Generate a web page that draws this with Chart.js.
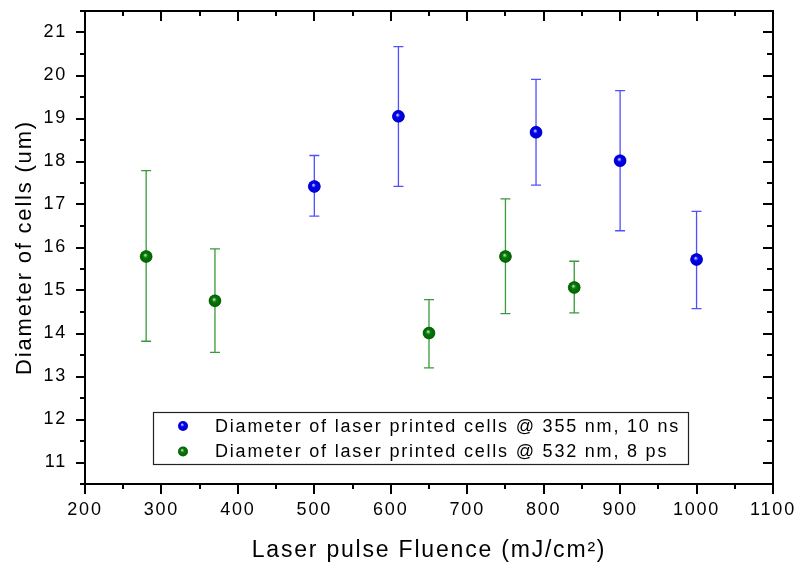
<!DOCTYPE html>
<html>
<head>
<meta charset="utf-8">
<script src="https://cdn.jsdelivr.net/npm/chart.js@4.4.1/dist/chart.umd.min.js"></script>
<style>
  html, body { margin: 0; padding: 0; background: #ffffff; }
  #c { display: block; }
</style>
</head>
<body>
<canvas id="c" width="800" height="566"></canvas>
<script>
// ---- data ----
const seriesLabels = [
  'Diameter of laser printed cells @ 355 nm, 10 ns',
  'Diameter of laser printed cells @ 532 nm, 8 ps'
];
const blueX  = [500, 610, 790, 900, 1000];
const blueY  = [17.42, 19.05, 18.68, 18.02, 15.72];
const blueLo = [16.73, 17.42, 17.45, 16.39, 14.58];
const blueHi = [18.14, 20.67, 19.91, 19.65, 16.84];

const greenX  = [280, 370, 650, 750, 840];
const greenY  = [15.79, 14.76, 14.01, 15.79, 15.07];
const greenLo = [13.82, 13.56, 13.20, 14.46, 14.48];
const greenHi = [17.79, 15.97, 14.79, 17.13, 15.68];

const xMin = 200, xMax = 1100, xMajor = 100, xMinor = 50;
const yMin = 10.5, yMax = 21.5, yMajor = 1, yMinor = 0.5;
const xTitle = 'Laser pulse Fluence (mJ/cm\u00B2)';
const yTitle = 'Diameter of cells (um)';

// ---- styles ----
const FONT = "'Liberation Sans', Arial, sans-serif";
const SPACING = '1.8px';
const palette = [
  { base: '#0000f0', dark: '#0000c8', light: '#c8c8ff', bar: '#5050ff' },
  { base: '#0a7a0a', dark: '#006000', light: '#b8dcb8', bar: '#3a9a3a' }
];

function pts(xs, ys) { return xs.map((x, i) => ({ x: x, y: ys[i] })); }

const errBars = [
  { x: blueX, lo: blueLo, hi: blueHi, color: palette[0].bar },
  { x: greenX, lo: greenLo, hi: greenHi, color: palette[1].bar }
];

function sphere(ctx, x, y, r, p) {
  const g = ctx.createRadialGradient(x - 1, y - 1.5, 0.3, x, y, r);
  g.addColorStop(0, p.light);
  g.addColorStop(0.35, p.base);
  g.addColorStop(1, p.dark);
  return g;
}

function fixBox(prop, size) {
  return function (s) {
    s[prop] = size;
    s.paddingTop = 0; s.paddingBottom = 0; s.paddingLeft = 0; s.paddingRight = 0;
  };
}

const spacingPlugin = {
  id: 'spacing',
  beforeUpdate(chart) { chart.ctx.letterSpacing = SPACING; },
  beforeDraw(chart) { chart.ctx.letterSpacing = SPACING; }
};

const errorBarPlugin = {
  id: 'errorBars',
  beforeDatasetsDraw(chart) {
    const ctx = chart.ctx, xs = chart.scales.x, ys = chart.scales.y;
    ctx.save();
    ctx.lineWidth = 1.3;
    errBars.forEach(s => {
      ctx.strokeStyle = s.color;
      s.x.forEach((xv, i) => {
        const px = xs.getPixelForValue(xv);
        const pLo = ys.getPixelForValue(s.lo[i]);
        const pHi = ys.getPixelForValue(s.hi[i]);
        ctx.beginPath();
        ctx.moveTo(px, pLo); ctx.lineTo(px, pHi);
        ctx.moveTo(px - 5, pLo); ctx.lineTo(px + 5, pLo);
        ctx.moveTo(px - 5, pHi); ctx.lineTo(px + 5, pHi);
        ctx.stroke();
      });
    });
    ctx.restore();
  }
};

// sphere shading drawn over each point element the library placed
const shadePlugin = {
  id: 'shade',
  afterDatasetsDraw(chart) {
    const ctx = chart.ctx;
    ctx.save();
    chart.data.datasets.forEach((ds, di) => {
      const meta = chart.getDatasetMeta(di);
      meta.data.forEach(el => {
        if (!isFinite(el.x) || !isFinite(el.y)) return;
        const r = el.options.radius;
        ctx.beginPath();
        ctx.fillStyle = sphere(ctx, el.x, el.y, r, palette[di]);
        ctx.arc(el.x, el.y, r, 0, Math.PI * 2);
        ctx.fill();
      });
    });
    ctx.restore();
  }
};

const tickPlugin = {
  id: 'ticksDraw',
  afterDraw(chart) {
    const ctx = chart.ctx;
    const a = chart.chartArea;
    ctx.save();
    ctx.strokeStyle = '#000';
    ctx.lineWidth = 2;
    const near = (v, step) => Math.abs(v / step - Math.round(v / step)) < 1e-6;
    chart.scales.x.ticks.forEach(t => {
      const px = Math.round(chart.scales.x.getPixelForValue(t.value));
      const len = near(t.value, xMajor) ? 10 : 5;
      ctx.beginPath();
      ctx.moveTo(px, a.bottom); ctx.lineTo(px, a.bottom + len);   // outward bottom
      ctx.moveTo(px, a.top); ctx.lineTo(px, a.top + len);         // inward top
      ctx.stroke();
    });
    chart.scales.y.ticks.forEach(t => {
      const py = Math.round(chart.scales.y.getPixelForValue(t.value));
      const len = near(t.value, yMajor) ? 9 : 5;
      ctx.beginPath();
      ctx.moveTo(a.left, py); ctx.lineTo(a.left - len, py);       // outward left
      ctx.moveTo(a.right, py); ctx.lineTo(a.right - len - 1, py); // inward right
      ctx.stroke();
    });
    ctx.restore();
  }
};

const legendPlugin = {
  id: 'boxLegend',
  afterDraw(chart) {
    const ctx = chart.ctx;
    ctx.save();
    ctx.letterSpacing = SPACING;
    const bx = 153, by = 412, bw = 535, bh = 52;
    ctx.strokeStyle = '#222';
    ctx.lineWidth = 1.2;
    ctx.strokeRect(bx + 0.5, by + 0.5, bw, bh);
    ctx.font = '18px ' + FONT;
    ctx.textBaseline = 'middle';
    chart.data.datasets.forEach((ds, i) => {
      const cy = by + 14 + i * 25.5;
      const cx = bx + 30;
      ctx.beginPath();
      ctx.fillStyle = sphere(ctx, cx, cy, 5, palette[i]);
      ctx.arc(cx, cy, 5, 0, Math.PI * 2);
      ctx.fill();
      ctx.fillStyle = '#000';
      ctx.fillText(ds.label, bx + 62, cy + 1);
    });
    ctx.restore();
  }
};

const tickFont = { family: FONT, size: 18 };

new Chart(document.getElementById('c'), {
  type: 'scatter',
  data: {
    datasets: [
      { label: seriesLabels[0], data: pts(blueX, blueY), backgroundColor: palette[0].base, borderColor: palette[0].dark,
        pointRadius: 6, pointBorderWidth: 0.5, showLine: false },
      { label: seriesLabels[1], data: pts(greenX, greenY), backgroundColor: palette[1].base, borderColor: palette[1].dark,
        pointRadius: 6, pointBorderWidth: 0.5, showLine: false }
    ]
  },
  options: {
    responsive: false,
    animation: false,
    devicePixelRatio: 1,
    layout: { padding: 0, autoPadding: false },
    plugins: { legend: { display: false }, tooltip: { enabled: false } },
    scales: {
      x: {
        type: 'linear', position: 'bottom', min: xMin, max: xMax,
        afterFit: fixBox('height', 82),
        grid: { display: false, drawTicks: false },
        border: { display: true, color: '#000', width: 2 },
        ticks: {
          stepSize: xMinor, padding: 15, color: '#000', font: tickFont, maxRotation: 0, autoSkip: false,
          callback: v => (Math.abs(v % xMajor) < 1e-6 ? String(v) : '')
        },
        title: { display: true, text: xTitle, color: '#000', font: { family: FONT, size: 23 }, padding: { top: 0, bottom: 2 } }
      },
      x2: {
        type: 'linear', position: 'top', min: xMin, max: xMax,
        afterFit: fixBox('height', 11),
        grid: { display: false, drawTicks: false },
        border: { display: true, color: '#000', width: 2 },
        ticks: { display: false, stepSize: xMinor }
      },
      y: {
        type: 'linear', position: 'left', min: yMin, max: yMax,
        afterFit: fixBox('width', 85),
        grid: { display: false, drawTicks: false },
        border: { display: true, color: '#000', width: 2 },
        ticks: {
          stepSize: yMinor, padding: 18, color: '#000', font: tickFont, autoSkip: false,
          callback: v => (Math.abs(v - Math.round(v)) < 1e-6 ? String(v) : '')
        },
        title: { display: true, text: yTitle, color: '#000', font: { family: FONT, size: 22 }, padding: { top: 12, bottom: 0 } }
      },
      y2: {
        type: 'linear', position: 'right', min: yMin, max: yMax,
        afterFit: fixBox('width', 27),
        grid: { display: false, drawTicks: false },
        border: { display: true, color: '#000', width: 2 },
        ticks: { display: false, stepSize: yMinor }
      }
    }
  },
  plugins: [spacingPlugin, errorBarPlugin, shadePlugin, tickPlugin, legendPlugin]
});
</script>
</body>
</html>
